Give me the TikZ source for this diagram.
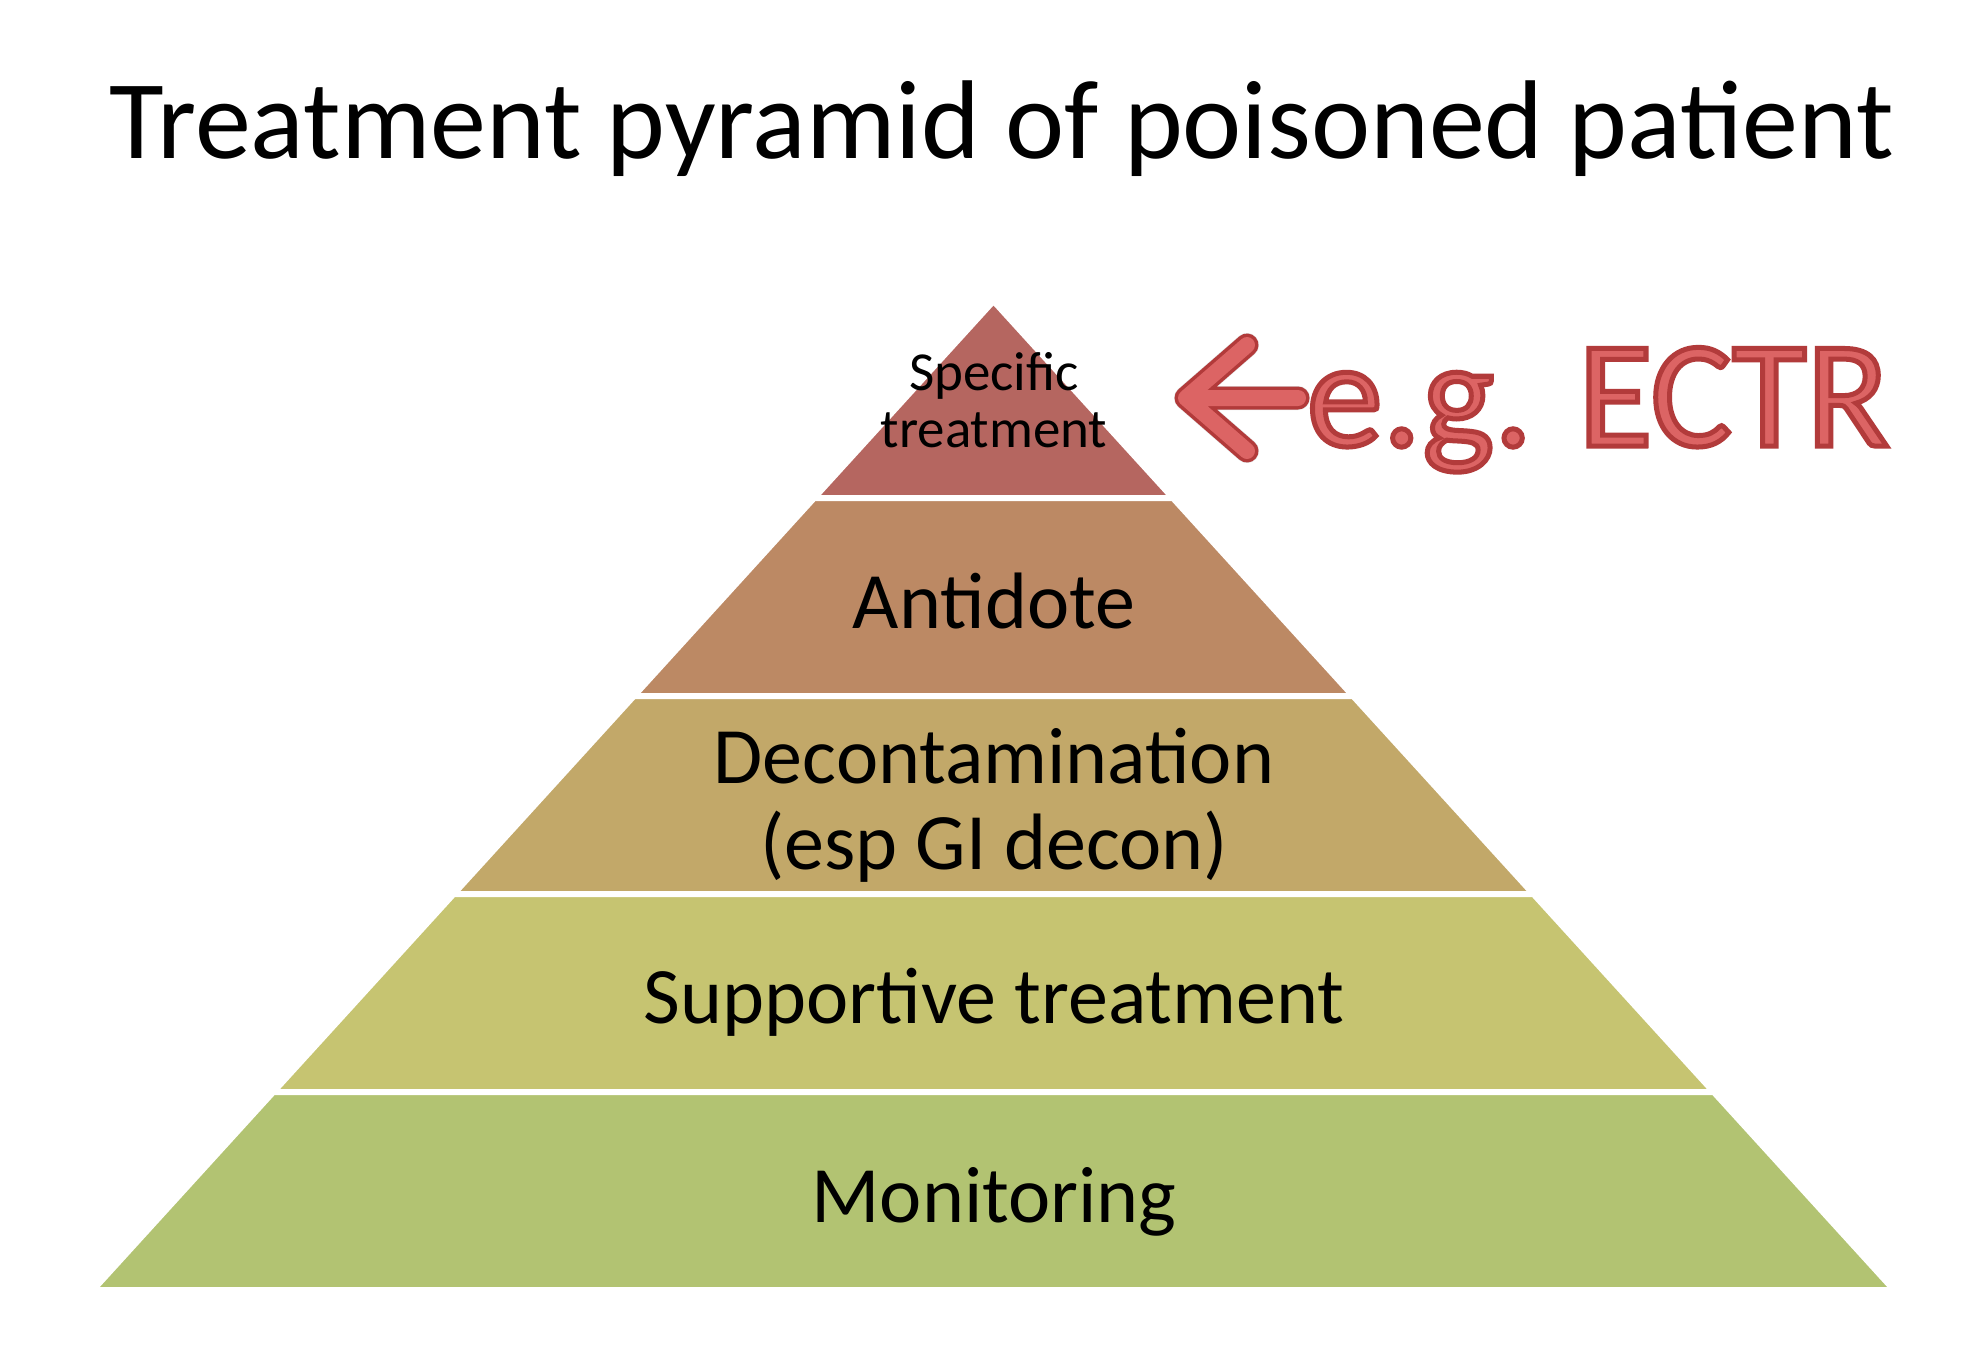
\documentclass[tikz,border=0pt]{standalone}
\usepackage{fontspec}
\setmainfont{Carlito}
\definecolor{lay1}{RGB}{181,102,96}
\definecolor{lay2}{RGB}{188,137,100}
\definecolor{lay3}{RGB}{194,168,105}
\definecolor{lay4}{RGB}{198,196,113}
\definecolor{lay5}{RGB}{178,195,114}
\definecolor{ectrfill}{RGB}{220,100,100}
\definecolor{ectrdark}{RGB}{178,58,58}
\newcommand\ectroutlineon{\special{pdf:literal q 2 Tr 5 w 0.70 0.23 0.23 RG}}
\newcommand\ectroutlineoff{\special{pdf:literal Q}}
\tikzset{
  layer/.style={draw=white, line width=6pt, line join=miter},
  lbl/.style={inner sep=0pt, text=black, align=center},
  arrowpart/.style={line cap=round, line join=round},
}
\begin{document}
\begin{tikzpicture}[x=1pt,y=-1pt]
\fill[white] (0,0) rectangle (1986,1369);
\useasboundingbox (0,0) rectangle (1986,1369);

% title
\node[lbl, anchor=base, font=\fontsize{112}{134}\selectfont] (title) at (1002,158) {Treatment pyramid of poisoned patient};

% pyramid layers
\path[layer, fill=lay1] (993.5,301) -- (1172.9,498) -- (814.1,498) -- cycle;
\path[layer, fill=lay2] (814.1,498) -- (1172.9,498) -- (1353.1,696) -- (633.9,696) -- cycle;
\path[layer, fill=lay3] (633.9,696) -- (1353.1,696) -- (1533.4,894) -- (453.6,894) -- cycle;
\path[layer, fill=lay4] (453.6,894) -- (1533.4,894) -- (1713.7,1092) -- (273.3,1092) -- cycle;
\path[layer, fill=lay5] (273.3,1092) -- (1713.7,1092) -- (1894.0,1290) -- (93.0,1290) -- cycle;

% labels
\node[lbl, font=\fontsize{55}{57}\selectfont] (specific) at (994,400) {Specific\\treatment};
\node[lbl, anchor=base, font=\fontsize{80}{86}\selectfont] (antidote) at (994,628) {Antidote};
\node[lbl, font=\fontsize{80}{86}\selectfont] (decon) at (994,805) {Decontamination\\(esp GI decon)};
\node[lbl, anchor=base, font=\fontsize{80}{86}\selectfont] (support) at (994,1023) {Supportive treatment};
\node[lbl, anchor=base, font=\fontsize{80}{86}\selectfont] (monitor) at (994,1222) {Monitoring};

% e.g. ECTR callout
\coordinate (tip) at (1186,398);
\coordinate (armtop) at (1247,345);
\coordinate (armbot) at (1247,451);
\coordinate (shaft) at (1298,398);
\draw[arrowpart, black!35, opacity=0.35, line width=24pt, shift={(4pt,-7pt)}] (armtop) -- (tip) -- (armbot) (tip) -- (shaft);
\draw[arrowpart, ectrdark, line width=23pt] (armtop) -- (tip) -- (armbot) (tip) -- (shaft);
\draw[arrowpart, ectrfill, line width=16pt] (armtop) -- (tip) -- (armbot) (tip) -- (shaft);
\node[inner sep=0pt, anchor=base, text=ectrfill, font=\fontsize{152}{160}\selectfont] (ectr) at (1598,446) {\ectroutlineon e.g. ECTR\ectroutlineoff};
\end{tikzpicture}
\end{document}
